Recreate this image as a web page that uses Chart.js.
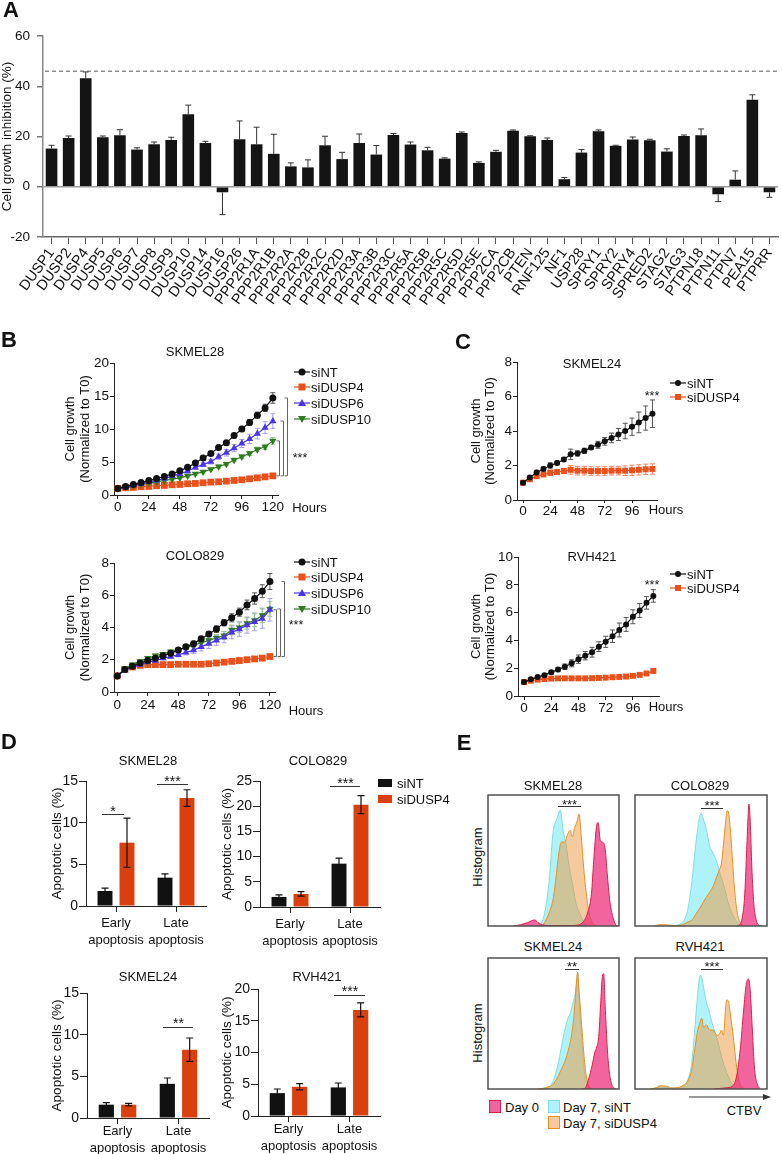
<!DOCTYPE html>
<html><head><meta charset="utf-8">
<script src="https://cdn.jsdelivr.net/npm/chart.js@4.4.1/dist/chart.umd.min.js"></script>
<style>
html,body{margin:0;padding:0;background:#fff;}
#fig{position:relative;width:782px;height:1154px;overflow:hidden;font-family:'Liberation Sans',Arial,sans-serif;color:#111;}
canvas{position:absolute;}
.t{position:absolute;font-size:13px;line-height:1;white-space:nowrap;transform:translate(-50%,-50%);}
.l{position:absolute;font-size:13px;line-height:1;white-space:nowrap;transform:translate(0,-50%);}
.p{position:absolute;font-size:22px;font-weight:bold;line-height:1;transform:translate(-50%,-50%);}
.s{position:absolute;line-height:1;white-space:nowrap;transform:translate(-50%,0);}
.hl{position:absolute;height:1px;background:#333;}
.sw{position:absolute;box-sizing:border-box;}
svg{position:absolute;overflow:visible;}
</style></head><body><div id="fig"></div>
<script>
// ================= DATA =================
// Panel A
const A_genes = ['DUSP1','DUSP2','DUSP4','DUSP5','DUSP6','DUSP7','DUSP8','DUSP9','DUSP10','DUSP14','DUSP16','DUSP26','PPP2R1A','PPP2R1B','PPP2R2A','PPP2R2B','PPP2R2C','PPP2R2D','PPP2R3A','PPP2R3B','PPP2R3C','PPP2R5A','PPP2R5B','PPP2R5C','PPP2R5D','PPP2R5E','PPP2CA','PPP2CB','PTEN','RNF125','NF1','USP28','SPRY1','SPRY2','SPRY4','SPRED2','STAG2','STAG3','PTPN18','PTPN11','PTPN7','PEA15','PTPRR'];
const A_inhibition = [15.2,19.4,43.2,19.7,20.5,14.8,16.9,18.6,28.9,17.4,-2.2,18.9,16.9,13.1,8.1,7.7,16.5,11.0,17.4,12.8,20.6,16.8,14.5,11.2,21.4,9.5,13.9,22.3,20.1,18.6,3.0,13.6,22.1,16.3,18.8,18.5,14.0,20.2,20.5,-3.0,2.8,34.6,-2.2];
const A_error = [1.3,0.8,2.5,0.5,2.2,0.7,0.9,1.1,3.6,0.7,8.9,7.3,6.8,7.8,1.4,3.0,3.6,2.7,3.6,3.6,0.6,1.0,1.2,0.3,0.4,0.4,0.6,0.3,0.2,0.8,0.7,1.2,0.5,0.2,1.0,0.4,1.1,0.4,2.5,2.9,3.5,2.0,2.0];
const A_threshold = 46;

// Panel B (hours)
const B_hours = [0,6,12,18,24,30,36,42,48,54,60,66,72,78,84,90,96,102,108,114,120];
const B_xTicks = [0,24,48,72,96,120];
const B1_siNT = [1.0,1.3,1.6,1.9,2.2,2.5,2.8,3.2,3.66,4.2,4.85,5.6,6.3,7.2,7.9,9.0,10.0,11.0,12.1,13.2,14.7];
const B1_siNT_err = [0.1,0.1,0.1,0.15,0.15,0.15,0.2,0.2,0.2,0.25,0.25,0.25,0.25,0.3,0.3,0.35,0.4,0.45,0.45,0.55,0.8];
const B1_siDUSP4 = [1.0,1.1,1.15,1.25,1.3,1.4,1.45,1.55,1.6,1.7,1.75,1.85,1.95,2.0,2.1,2.2,2.3,2.45,2.6,2.75,2.9];
const B1_siDUSP4_err = [0.05,0.08,0.08,0.1,0.1,0.1,0.1,0.1,0.1,0.1,0.1,0.1,0.1,0.12,0.12,0.12,0.12,0.15,0.15,0.15,0.18];
const B1_siDUSP6 = [1.0,1.2,1.5,1.7,2.0,2.2,2.5,2.9,3.2,3.6,4.2,4.6,5.05,5.8,6.4,7.1,7.8,8.5,9.3,10.2,11.2];
const B1_siDUSP6_err = [0.05,0.1,0.1,0.1,0.15,0.15,0.2,0.2,0.25,0.25,0.3,0.3,0.35,0.4,0.5,0.55,0.6,0.7,0.8,0.9,1.1];
const B1_siDUSP10 = [1.0,1.2,1.4,1.6,1.8,2.0,2.2,2.4,2.6,2.9,3.2,3.5,3.9,4.3,4.7,5.3,5.8,6.3,6.9,7.3,8.2];
const B1_siDUSP10_err = [0.05,0.1,0.1,0.1,0.1,0.1,0.15,0.15,0.15,0.2,0.2,0.2,0.2,0.25,0.25,0.3,0.3,0.3,0.35,0.4,0.5];

const B2_siNT = [1.0,1.4,1.6,1.8,1.95,2.1,2.25,2.4,2.6,2.8,3.0,3.3,3.6,3.9,4.3,4.6,4.95,5.4,5.8,6.25,6.85];
const B2_siNT_err = [0.05,0.1,0.1,0.1,0.1,0.1,0.1,0.12,0.12,0.15,0.15,0.15,0.15,0.2,0.2,0.25,0.25,0.3,0.35,0.4,0.5];
const B2_siDUSP4 = [1.0,1.4,1.55,1.65,1.7,1.7,1.7,1.7,1.72,1.72,1.72,1.72,1.75,1.8,1.85,1.9,1.95,2.0,2.05,2.1,2.2];
const B2_siDUSP4_err = [0.05,0.08,0.08,0.08,0.08,0.08,0.08,0.08,0.08,0.08,0.08,0.08,0.08,0.08,0.08,0.08,0.08,0.08,0.08,0.1,0.1];
const B2_siDUSP6 = [1.0,1.35,1.55,1.7,1.85,1.95,2.1,2.2,2.3,2.45,2.6,2.8,3.0,3.2,3.4,3.7,3.9,4.15,4.35,4.55,5.1];
const B2_siDUSP6_err = [0.05,0.1,0.1,0.1,0.1,0.1,0.1,0.12,0.12,0.15,0.2,0.25,0.3,0.3,0.35,0.4,0.45,0.5,0.55,0.6,0.7];
const B2_siDUSP10 = [1.0,1.45,1.7,1.9,2.1,2.25,2.35,2.5,2.6,2.75,2.9,3.05,3.2,3.35,3.5,3.85,4.0,4.25,4.45,4.75,5.15];
const B2_siDUSP10_err = [0.05,0.1,0.1,0.1,0.1,0.1,0.1,0.1,0.12,0.12,0.15,0.15,0.2,0.2,0.25,0.3,0.3,0.35,0.4,0.45,0.45];

// Panel C (hours)
const C_hours = [0,6,12,18,24,30,36,42,48,54,60,66,72,78,84,90,96,102,108,114];
const C_xTicks = [0,24,48,72,96];
const C1_siNT = [1.0,1.3,1.6,1.8,2.0,2.15,2.35,2.65,2.7,2.85,3.05,3.2,3.4,3.6,3.8,4.0,4.25,4.5,4.75,5.0];
const C1_siNT_err = [0.05,0.1,0.12,0.12,0.15,0.12,0.12,0.3,0.15,0.15,0.12,0.2,0.22,0.28,0.35,0.45,0.5,0.6,0.7,0.8];
const C1_siDUSP4 = [1.0,1.2,1.38,1.48,1.58,1.62,1.68,1.75,1.7,1.7,1.68,1.68,1.68,1.7,1.7,1.7,1.72,1.75,1.78,1.8];
const C1_siDUSP4_err = [0.05,0.08,0.1,0.12,0.15,0.15,0.15,0.25,0.25,0.25,0.25,0.25,0.25,0.25,0.25,0.28,0.3,0.3,0.3,0.3];
const C2_siNT = [1.0,1.2,1.37,1.5,1.7,1.9,2.1,2.35,2.65,2.9,3.15,3.55,3.9,4.3,4.75,5.15,5.7,6.15,6.7,7.2];
const C2_siNT_err = [0.05,0.08,0.1,0.1,0.12,0.15,0.2,0.25,0.3,0.3,0.35,0.35,0.4,0.45,0.5,0.5,0.5,0.5,0.45,0.45];
const C2_siDUSP4 = [1.0,1.1,1.18,1.22,1.25,1.27,1.27,1.27,1.27,1.27,1.28,1.3,1.32,1.35,1.37,1.4,1.45,1.52,1.62,1.8];
const C2_siDUSP4_err = [0.03,0.04,0.04,0.04,0.05,0.05,0.05,0.05,0.05,0.05,0.05,0.05,0.05,0.05,0.05,0.05,0.05,0.06,0.06,0.07];

// Panel D
const D_categories = [['Early','apoptosis'],['Late','apoptosis']];
const D1_siNT = [1.8,3.4], D1_siNT_err = [0.35,0.45], D1_siDUSP4 = [7.6,12.95], D1_siDUSP4_err = [2.95,1.0];
const D2_siNT = [2.0,8.6], D2_siNT_err = [0.4,1.1], D2_siDUSP4 = [2.6,20.3], D2_siDUSP4_err = [0.45,1.8];
const D3_siNT = [1.6,4.1], D3_siNT_err = [0.25,0.7], D3_siDUSP4 = [1.6,8.2], D3_siDUSP4_err = [0.15,1.4];
const D4_siNT = [3.6,4.5], D4_siNT_err = [0.65,0.7], D4_siDUSP4 = [4.6,16.7], D4_siDUSP4_err = [0.5,1.1];

// Panel E (CTBV position %, histogram height % of frame)
const E1_day0 = [[20,0],[25,1],[30,2.5],[35.6,4.6],[39,2],[44,0.5],[50,0.3],[60,0.3],[67,0.5],[72.5,3],[76,10],[79,25],[80.7,50],[82.7,75],[84,79],[85.8,65],[87.3,64],[89.3,60],[91,40],[92.9,20],[95,8],[97.5,1],[99,0]];
const E1_siNT = [[38,0],[42,5],[44.5,17],[47,38],[49.6,71],[52.7,82],[55.2,88.5],[57.3,73],[59.8,61],[62,45],[64.9,30],[67,18],[70,9.7],[73,3],[76,0]];
const E1_siDUSP4 = [[40,0],[42,1],[47,11],[50,22],[52,38],[54,55],[56,64],[58.5,64],[61,70.7],[62.8,73],[64.4,68],[66,74.5],[68,80],[69.5,85.5],[71,70.7],[73,45],[75,25],[77.6,8],[80,2],[83,0]];
const E2_day0 = [[77,0],[80,2],[81.5,8],[83,22],[84.5,55],[85.6,82],[86.3,93],[87.3,80],[88.5,45],[90,17],[92,4],[94,0.5],[96,0]];
const E2_siNT = [[28,0],[33,1],[37,4],[40.5,15],[43.8,40],[46,62],[48,78],[50,86],[52,81],[54,74],[56.5,61],[59,56],[61.5,50],[64.5,40],[67.5,30],[70,20],[73,11],[76,5],[80,1],[83,0]];
const E2_siDUSP4 = [[15,0],[18,1],[25,0.8],[30,0.3],[36,1],[40,3],[43.5,5],[46,9],[49,13.5],[54,22],[59,30],[62,38],[64,43],[65.5,48],[67,62],[68.5,78],[69.8,88],[71,86],[72.5,70],[74,48],[75.5,27],[77.5,10],[79.5,3],[82,0]];
const E3_day0 = [[72,0],[74,0.5],[76,5],[78,12],[79.5,18],[81.5,28],[83,32],[84.5,40],[86,65],[87.3,86],[88.3,88],[89.6,60],[91,32],[92.5,14],[94,5],[96.5,0.5],[98,0]];
const E3_siNT = [[41,0],[45,1],[48,3],[50.8,9],[53,17],[54.7,25],[57,37],[59.8,50],[61.5,55],[63.6,60],[65.4,68],[66.5,72],[67.5,80],[68.5,89],[69.5,72],[71,45],[72.5,25],[74,10],[76,3],[78,0.5],[80,0]];
const E3_siDUSP4 = [[38,0],[42,0.5],[47,2],[50,4],[52,7],[56,15],[60,25],[63.6,40],[65,50],[66,60],[67.4,80],[68.4,89],[69.5,75],[71,55],[72,42],[73.8,20],[75.8,6],[78,1],[80,0]];
const E4_day0 = [[60,0],[65,0.5],[70,1],[74.7,3],[77,10],[79.7,30],[82.3,60],[84.3,80],[86,84],[87.3,75],[88.9,45],[90.6,15],[92.9,3],[95,0]];
const E4_siNT = [[12,0],[16,0.8],[20,1.5],[24,1.2],[28,0.6],[32,1],[36,2],[39,5],[41,10],[43,20],[45,42],[47.3,70],[49.4,87],[50.6,85],[52.4,75],[54.4,65],[56,60],[58.2,51],[60.8,43],[63.3,34],[66.6,21],[69.6,12],[73.4,4],[77,0.5],[80,0]];
const E4_siDUSP4 = [[12,0],[16,1],[19,2.5],[24,2],[28,0.8],[33,1.2],[37,3],[40,6],[43,15],[45,28],[47,42],[49,50],[50.6,54],[52,47],[54,49],[56.5,45],[59,45],[62,41],[64,42],[65.5,45],[67,41],[68.5,60],[69.5,68],[71,66],[72.5,55],[74.5,40],[76,25],[78,10],[80,3],[82,0.5],[84,0]];

// ================= SETUP =================
const FONT = "'Liberation Sans', Arial, sans-serif";
Chart.defaults.font.family = FONT;
Chart.defaults.font.size = 13;
Chart.defaults.color = '#111';
Chart.defaults.animation = false;
Chart.defaults.plugins.legend.display = false;
Chart.defaults.plugins.tooltip.enabled = false;
const fig = document.getElementById('fig');

const COL = {nt:'#111111', d4:'#E8501C', d6:'#4A35E6', d10:'#2F7A1F', barOr:'#D9400E'};

function drawErr(chart, phase){
  const ctx = chart.ctx;
  chart.data.datasets.forEach((ds,i)=>{
    if(!ds.errors || (ds.errPhase||'after')!==phase) return;
    const meta = chart.getDatasetMeta(i);
    const ys = chart.scales.y;
    ctx.save();
    ctx.strokeStyle = ds.errColor||'#222'; ctx.lineWidth = ds.errWidth||1;
    meta.data.forEach((el,j)=>{
      const raw = ds.data[j]; const v = (raw && typeof raw==='object') ? raw.y : raw; const e = ds.errors[j];
      if(!e) return;
      const x = el.x, cap = ds.errCap||3;
      ctx.beginPath();
      if(ds.errMode==='out'){
        const end = v>=0 ? v+e : v-e;
        const y0 = ys.getPixelForValue(v), y1 = ys.getPixelForValue(end);
        ctx.moveTo(x,y0); ctx.lineTo(x,y1); ctx.moveTo(x-cap,y1); ctx.lineTo(x+cap,y1);
      } else {
        const yh = ys.getPixelForValue(v+e), yl = ys.getPixelForValue(v-e);
        ctx.moveTo(x,yh); ctx.lineTo(x,yl);
        ctx.moveTo(x-cap,yh); ctx.lineTo(x+cap,yh); ctx.moveTo(x-cap,yl); ctx.lineTo(x+cap,yl);
      }
      ctx.stroke();
    });
    ctx.restore();
  });
}
Chart.register({id:'errbars', beforeDatasetsDraw(c){drawErr(c,'before');}, afterDatasetsDraw(c){drawErr(c,'after');}});
Chart.register({id:'threshold', afterDatasetsDraw(chart,args,opts){
  if(opts.value===undefined) return;
  const ctx=chart.ctx, y=chart.scales.y.getPixelForValue(opts.value), a=chart.chartArea;
  ctx.save(); ctx.strokeStyle=opts.color||'#555'; ctx.lineWidth=1; ctx.setLineDash([4,3]);
  ctx.beginPath(); ctx.moveTo(a.left+2,y); ctx.lineTo(a.right+2,y); ctx.stroke(); ctx.restore();
}});
Chart.register({id:'brackets', afterDraw(chart,args,opts){
  if(!opts.items) return;
  const ctx=chart.ctx, ys=chart.scales.y, r=chart.chartArea.right;
  ctx.save(); ctx.strokeStyle=opts.color||'#666'; ctx.lineWidth=1;
  opts.items.forEach(it=>{
    const x=Math.round(r+it.dx)+0.5, y1=ys.getPixelForValue(it.top), y2=ys.getPixelForValue(it.bottom);
    ctx.beginPath(); ctx.moveTo(x-3,y1); ctx.lineTo(x,y1); ctx.lineTo(x,y2); ctx.lineTo(x-3,y2); ctx.stroke();
  });
  ctx.restore();
}});
Chart.register({id:'frame', afterDraw(chart,args,opts){
  if(!opts.on) return;
  const a=chart.chartArea, ctx=chart.ctx;
  ctx.save(); ctx.strokeStyle='#505050'; ctx.lineWidth=1.5;
  ctx.strokeRect(a.left,a.top,a.right-a.left,a.bottom-a.top); ctx.restore();
}});

function makeChart(box, area, cfg){
  const c=document.createElement('canvas');
  Object.assign(c.style,{left:box.x+'px',top:box.y+'px',width:box.w+'px',height:box.h+'px'});
  c.width=box.w; c.height=box.h;
  fig.appendChild(c);
  const o=cfg.options=cfg.options||{};
  o.responsive=false; o.maintainAspectRatio=false; o.animation=false; o.devicePixelRatio=1;
  if(area){
    o.layout={padding:{left:0,top:area.t-box.y,right:box.x+box.w-area.r,bottom:0}};
    const yW=area.l-box.x, xH=box.y+box.h-area.b;
    o.scales.x.afterFit=s=>{s.height=xH;};
    o.scales.y.afterFit=s=>{s.width=yW;};
  }
  return new Chart(c,cfg);
}
function txt(cls, s, x, y, style){
  const d=document.createElement('div'); d.className=cls; d.textContent=s;
  d.style.left=x+'px'; d.style.top=y+'px'; if(style) Object.assign(d.style,style);
  fig.appendChild(d); return d;
}
function hl(x0,x1,y){ const d=document.createElement('div'); d.className='hl'; Object.assign(d.style,{left:x0+'px',top:(y-0.5)+'px',width:(x1-x0)+'px'}); fig.appendChild(d); }
function star(s,x,cy,size){ txt('s',s,x,cy-size*0.28,{fontSize:size+'px'}); }
function svgEl(html,x,y,w,h){ const ns='http://www.w3.org/2000/svg'; const s=document.createElementNS(ns,'svg'); s.setAttribute('width',w); s.setAttribute('height',h); s.style.left=x+'px'; s.style.top=y+'px'; s.innerHTML=html; fig.appendChild(s); }
function legendLine(cx, cy, color, shape, label, textX, msize){
  const m=msize||3.5; let mk='';
  if(shape==='circle') mk=`<circle cx="9" cy="6" r="${m}" fill="${color}"/>`;
  else if(shape==='rect') mk=`<rect x="${9-m}" y="${6-m}" width="${2*m}" height="${2*m}" fill="${color}"/>`;
  else if(shape==='tri') mk=`<polygon points="9,${6-m-0.5} ${9+m+0.5},${6+m-0.5} ${9-m-0.5},${6+m-0.5}" fill="${color}"/>`;
  else if(shape==='tridown') mk=`<polygon points="${9-m-0.5},${6-m+0.5} ${9+m+0.5},${6-m+0.5} 9,${6+m+0.5}" fill="${color}"/>`;
  svgEl(`<line x1="1" y1="6" x2="17" y2="6" stroke="${color}" stroke-width="1.2"/>`+mk, cx-9, cy-6, 18, 12);
  txt('l',label,textX,cy);
}

// axis style helper
function ax(tl, pad, size, extra){
  return Object.assign({
    ticks:{font:{size:size}, padding:pad, maxRotation:0, minRotation:0},
    grid:{display:true, drawOnChartArea:false, drawTicks:true, tickLength:tl, color:'#222', lineWidth:1},
    border:{display:true, color:'#222', width:1}
  }, extra||{});
}
function pts(xs, ys){ return xs.map((x,i)=>({x:x, y:ys[i]})); }
function lineDS(xs, ys, errs, color, errColor, style, r, rot){
  return {data:pts(xs,ys), borderColor:color, backgroundColor:color, borderWidth:1.2, pointStyle:style,
    pointRadius:r, pointRotation:rot||0, pointBorderWidth:0, clip:false,
    errors:errs, errColor:errColor, errPhase:'before', errCap:2.5, errWidth:1};
}

// ================= PANEL A =================
makeChart({x:0,y:0,w:790,h:320},{l:43,t:36,r:778,b:237},{
  type:'bar',
  data:{labels:A_genes, datasets:[{data:A_inhibition, backgroundColor:'#141414', borderWidth:0,
    barPercentage:0.68, categoryPercentage:1, errors:A_error, errMode:'out', errColor:'#333', errCap:3, errWidth:1}]},
  options:{
    scales:{
      x:{type:'category', offset:true,
        ticks:{autoSkip:false, minRotation:54, maxRotation:54, font:{size:14.5}, padding:1},
        grid:{display:true, offset:false, drawOnChartArea:false, drawTicks:true, tickLength:7, color:'#555'},
        border:{display:true, color:'#666', width:1.5}},
      y:{min:-20, max:60,
        ticks:{stepSize:20, font:{size:13.5}, padding:7},
        grid:{display:true, drawOnChartArea:true, drawTicks:true, tickLength:6,
          color:c=> (c.tick && c.tick.value===0) ? '#9a9a9a' : 'rgba(0,0,0,0)', tickColor:'#777', lineWidth:1.5},
        border:{display:true, color:'#888', width:1.5},
        title:{display:true, text:'Cell growth inhibition (%)', font:{size:13.5}, padding:{top:-1,bottom:0}}}
    },
    plugins:{threshold:{value:A_threshold, color:'#555'}}
  }
});
txt('p','A',11,10);

// ================= PANEL B =================
function growthChart(box, area, xMin, xMax, yMax, yStep, ticksX, datasets, brackets, titleOff, titleLH, xtl, xpad){
  return makeChart(box, area, {
    type:'line',
    data:{datasets:datasets},
    options:{
      scales:{
        x:ax(xtl, xpad, 13.5, {type:'linear', min:xMin, max:xMax, afterBuildTicks:s=>{s.ticks=ticksX.map(v=>({value:v}));}}),
        y:ax(4, 1, 13.5, {min:0, max:yMax, ticks:{stepSize:yStep, font:{size:13.5}, padding:1},
          title:{display:true, text:['Cell growth','(Normalized to T0)'], font:{size:13, lineHeight:titleLH}, padding:{top:titleOff-13*titleLH/2, bottom:0}}})
      },
      plugins:{brackets:{items:brackets, color:'#666'}}
    }
  });
}
growthChart({x:40,y:340,w:262,h:185},{l:114,t:363,r:278,b:495},-3,124,20,5,B_xTicks,[
  lineDS(B_hours,B1_siNT,B1_siNT_err,COL.nt,'#555','circle',3.5),
  lineDS(B_hours,B1_siDUSP6,B1_siDUSP6_err,COL.d6,'#A79BF2','triangle',4.2),
  lineDS(B_hours,B1_siDUSP10,B1_siDUSP10_err,COL.d10,'#93C486','triangle',4.2,180),
  lineDS(B_hours,B1_siDUSP4,B1_siDUSP4_err,COL.d4,'#F2A080','rect',4.8)
],[
  {dx:9, top:B1_siNT[20], bottom:B1_siDUSP4[20]},
  {dx:5, top:B1_siDUSP6[20], bottom:B1_siDUSP4[20]},
  {dx:1, top:B1_siDUSP10[20], bottom:B1_siDUSP4[20]}
], 30, 1.2, 4, 0);
growthChart({x:40,y:540,w:262,h:180},{l:114,t:563,r:275,b:692},-2.5,124,8,2,B_xTicks,[
  lineDS(B_hours,B2_siNT,B2_siNT_err,COL.nt,'#555','circle',3.5),
  lineDS(B_hours,B2_siDUSP6,B2_siDUSP6_err,COL.d6,'#A79BF2','triangle',4.2),
  lineDS(B_hours,B2_siDUSP10,B2_siDUSP10_err,COL.d10,'#93C486','triangle',4.2,180),
  lineDS(B_hours,B2_siDUSP4,B2_siDUSP4_err,COL.d4,'#F2A080','rect',4.8)
],[
  {dx:9, top:B2_siNT[20], bottom:B2_siDUSP4[20]},
  {dx:4.5, top:B2_siDUSP10[20], bottom:B2_siDUSP4[20]},
  {dx:0.5, top:B2_siDUSP6[20], bottom:B2_siDUSP4[20]}
], 30, 1.2, 4, 1);
txt('p','B',9,340);
txt('t','SKMEL28',195,351); txt('t','COLO829',195,555);
txt('t','Hours',309.5,507); txt('t','Hours',306,710);
[['siNT',COL.nt,'circle'],['siDUSP4',COL.d4,'rect'],['siDUSP6',COL.d6,'tri'],['siDUSP10',COL.d10,'tridown']].forEach((e,i)=>{
  legendLine(302,[371.7,387.3,403.3,419.3][i],e[1],e[2],e[0],311);
  legendLine(302,[561.7,577.3,593.3,609.3][i],e[1],e[2],e[0],311);
});
star('***',300,455,12.5); star('***',296,622,12.5);

// ================= PANEL C =================
growthChart({x:455,y:340,w:215,h:190},{l:517,t:362,r:657,b:500},-5.3,118,8,2,C_xTicks,[
  lineDS(C_hours,C1_siNT,C1_siNT_err,COL.nt,'#555','circle',3),
  lineDS(C_hours,C1_siDUSP4,C1_siDUSP4_err,COL.d4,'#F08868','rect',4.2)
],null, 21.7, 1.05, 3, 0);
growthChart({x:455,y:535,w:215,h:190},{l:518,t:557,r:659,b:696},-5.3,119,10,2,C_xTicks,[
  lineDS(C_hours,C2_siNT,C2_siNT_err,COL.nt,'#555','circle',3),
  lineDS(C_hours,C2_siDUSP4,C2_siDUSP4_err,COL.d4,'#F08868','rect',4.2)
],null, 21.7, 1.05, 4, 0);
txt('p','C',463,341.5);
txt('t','SKMEL24',592,363); txt('t','RVH421',592,556);
txt('t','Hours',666,509); txt('t','Hours',666,706);
legendLine(678,383.3,COL.nt,'circle','siNT',687,3); legendLine(678,397.3,COL.d4,'rect','siDUSP4',687,3);
legendLine(678,574.3,COL.nt,'circle','siNT',687,3); legendLine(678,588.3,COL.d4,'rect','siDUSP4',687,3);
star('***',652,393,12.5); star('***',652,582,12.5);

// ================= PANEL D =================
function apopChart(box, area, yMax, nt, ntErr, d4, d4Err, titleOff, xGap){
  return makeChart(box, area, {
    type:'bar',
    data:{labels:D_categories, datasets:[
      {data:nt, backgroundColor:'#111', borderWidth:0, categoryPercentage:0.733, barPercentage:0.68, errors:ntErr, errColor:'#111', errCap:3.5, errWidth:1.2},
      {data:d4, backgroundColor:COL.barOr, borderWidth:0, categoryPercentage:0.733, barPercentage:0.68, errors:d4Err, errColor:'#111', errCap:3.5, errWidth:1.2}
    ]},
    options:{
      scales:{
        x:ax(6, xGap, 13, {type:'category', ticks:{font:{size:13, lineHeight:1.28}, padding:xGap, maxRotation:0, minRotation:0},
          grid:{display:true, offset:false, drawOnChartArea:false, drawTicks:true, tickLength:6, color:'#222'}}),
        y:ax(7, 1, 14, {min:0, max:yMax, ticks:{stepSize:5, font:{size:14}, padding:1},
          title:{display:true, text:'Apoptotic cells (%)', font:{size:13.5}, padding:{top:titleOff-8.1, bottom:0}}})
      }
    }
  });
}
apopChart({x:40,y:765,w:175,h:185},{l:86,t:781,r:206,b:906},15,D1_siNT,D1_siNT_err,D1_siDUSP4,D1_siDUSP4_err,17.5,3);
apopChart({x:210,y:765,w:180,h:185},{l:260,t:781,r:380,b:907},25,D2_siNT,D2_siNT_err,D2_siDUSP4,D2_siDUSP4_err,17.5,3);
apopChart({x:40,y:975,w:180,h:179},{l:87,t:993,r:209,b:1118},15,D3_siNT,D3_siNT_err,D3_siDUSP4,D3_siDUSP4_err,17.5,-1);
apopChart({x:210,y:975,w:180,h:179},{l:258,t:989,r:380,b:1116},20,D4_siNT,D4_siNT_err,D4_siDUSP4,D4_siDUSP4_err,17.5,-1);
txt('p','D',9,741.5);
txt('t','SKMEL28',148,760); txt('t','COLO829',318,760); txt('t','SKMEL24',148,976); txt('t','RVH421',317,976);
txt('sw','',378,779,{width:14+'px',height:8+'px',background:'#111'});
txt('sw','',378,795,{width:14+'px',height:8+'px',background:COL.barOr});
txt('l','siNT',397,783); txt('l','siDUSP4',397,799);
hl(102,124,814); star('*',113,808,14);
hl(157,188,784); star('***',172.5,777.5,14);
hl(330,360,786); star('***',345.5,780,14);
hl(163,193,1027); star('**',178.5,1020,14);
hl(334,365,995); star('***',350,988,14);

// ================= PANEL E =================
const E_fill = {day0:'rgba(235,40,120,0.72)', nt:'rgba(120,235,245,0.6)', d4:'rgba(235,150,60,0.5)'};
const E_line = {day0:'#D8204A', nt:'#86D9E2', d4:'#E8901E'};
function histChart(x0,y0,x1,y1, day0, nt, d4){
  const mk=(arr,k)=>({data:arr.map(p=>({x:p[0],y:p[1]})), fill:'origin', backgroundColor:E_fill[k], borderColor:E_line[k], borderWidth:1, pointRadius:0, cubicInterpolationMode:'monotone'});
  return makeChart({x:x0-2,y:y0-2,w:x1-x0+4,h:y1-y0+4}, null, {
    type:'line',
    data:{datasets:[mk(day0,'day0'), mk(d4,'d4'), mk(nt,'nt')]},
    options:{layout:{padding:2}, scales:{x:{type:'linear',min:0,max:100,display:false}, y:{min:0,max:100,display:false}},
      plugins:{frame:{on:true}}}
  });
}
histChart(488,795,619,926,E1_day0,E1_siNT,E1_siDUSP4);
histChart(635,795,767,926,E2_day0,E2_siNT,E2_siDUSP4);
histChart(488,958,619,1089,E3_day0,E3_siNT,E3_siDUSP4);
histChart(635,958,767,1089,E4_day0,E4_siNT,E4_siDUSP4);
txt('p','E',464,743);
txt('t','SKMEL28',553,785); txt('t','COLO829',700,785); txt('t','SKMEL24',553,946); txt('t','RVH421',700,946);
txt('t','Histogram',477,857,{transform:'translate(-50%,-50%) rotate(-90deg)'});
txt('t','Histogram',477,1033,{transform:'translate(-50%,-50%) rotate(-90deg)'});
hl(558,581,806); star('***',569.5,801.5,13);
hl(701,723,808); star('***',712,803,13);
hl(565,579,969); star('**',572,964,13);
hl(701,723,969); star('***',712,964,13);
txt('sw','',489,1100,{width:'12px',height:'13px',background:'rgb(240,100,158)',border:'1px solid #D8204A'});
txt('sw','',548,1100,{width:'12px',height:'13px',background:'rgb(174,243,249)',border:'1px solid #86D9E2'});
txt('sw','',548,1116,{width:'12px',height:'13px',background:'rgb(246,202,157)',border:'1px solid #E8901E'});
txt('l','Day 0',505,1107); txt('l','Day 7, siNT',563,1107); txt('l','Day 7, siDUSP4',563,1122.5);
svgEl('<line x1="0" y1="4" x2="76" y2="4" stroke="#333" stroke-width="1.2"/><polygon points="82,4 74,1 74,7" fill="#333"/>',689,1093,84,8);
txt('t','CTBV',744,1110);
</script></body></html>
